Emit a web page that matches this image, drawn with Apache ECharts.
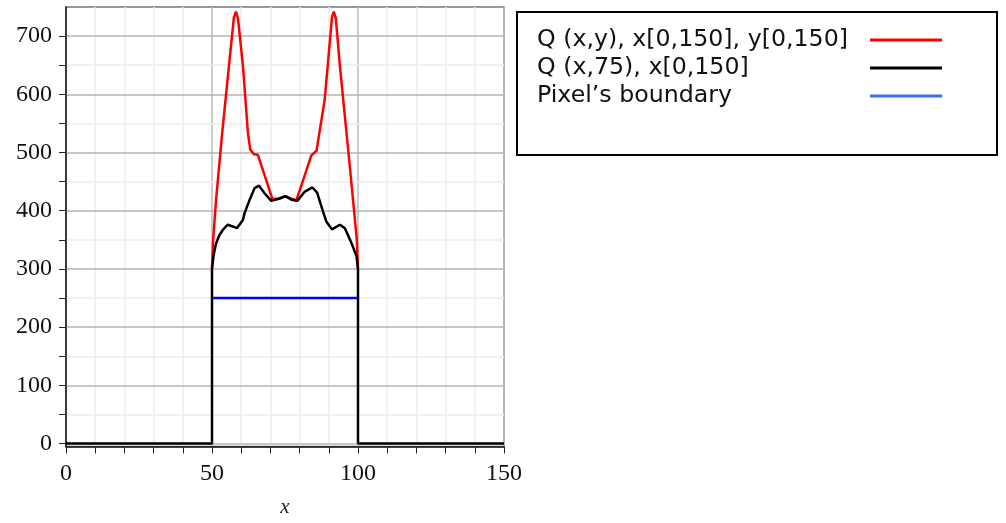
<!DOCTYPE html>
<html>
<head>
<meta charset="utf-8">
<script src="https://cdn.jsdelivr.net/npm/echarts@6/dist/echarts.min.js"></script>
<style>
html,body{margin:0;padding:0;background:#fff;}
#chart{width:1006px;height:523px;}
</style>
</head>
<body>
<div id="chart"></div>
<script>
// Series names
const seriesNames = ['Q (x,y), x[0,150], y[0,150]', 'Q (x,75), x[0,150]', 'Pixel\u2019s boundary'];

// Q(x,y) curve (red)
const redX = [50, 50.4, 51.4, 53.5, 55.8, 57.5, 58.2, 58.9, 60.6, 62.3, 63.1, 64.4, 65.7, 68.2, 70.7, 73, 75, 77, 78.9, 81.5, 84, 85.8, 88.6, 91.1, 91.7, 92.4, 93.8, 97.2, 99.6, 100];
const redY = [300, 350, 419, 534, 649, 732, 742, 730, 649, 534, 505, 497, 496, 458, 420, 421, 425, 421, 418, 457, 495, 503, 591, 733, 742, 731, 649, 476, 350, 300];

// Q(x,75) curve (black)
const blackX = [0, 50, 50, 50.6, 51.4, 52.5, 53.7, 55.4, 57.1, 58.5, 60.6, 61.1, 62.9, 64.6, 66.1, 68, 70.3, 73.2, 75.2, 77.2, 79.2, 81.8, 84.4, 86, 88, 89.2, 91.1, 93.8, 95.5, 97.8, 99.5, 100, 100, 150];
const blackY = [0, 0, 300, 325, 344, 358, 367, 376, 373, 370, 384, 395, 419, 439, 443, 430, 417, 421, 425, 419, 417, 433, 440, 431, 399, 381, 368, 376, 370, 344, 322, 300, 0, 0];

// Pixel's boundary (blue)
const blueX = [50, 100];
const blueY = [250, 250];

// Tick labels / tick positions
const xTickLabels = [0, 50, 100, 150];
const yTickLabels = [0, 100, 200, 300, 400, 500, 600, 700];
const yTicks = [0, 50, 100, 150, 200, 250, 300, 350, 400, 450, 500, 550, 600, 650, 700];

const pairs = (xs, ys) => xs.map((x, i) => [x, ys[i]]);

const chart = echarts.init(document.getElementById('chart'), null, {renderer: 'canvas'});
const serif = '"Liberation Serif", "Times New Roman", serif';
const sans = '"DejaVu Sans", Verdana, sans-serif';

chart.setOption({
  animation: false,
  backgroundColor: '#fff',
  grid: {
    left: 66, right: 502, top: 7, bottom: 76.5,
    outerBoundsMode: 'none', containLabel: false,
    show: true, borderColor: '#777', borderWidth: 1.5, backgroundColor: 'transparent'
  },
  xAxis: {
    type: 'value', min: 0, max: 150, interval: 10,
    name: 'x', nameLocation: 'middle', nameGap: 50,
    nameTextStyle: {fontFamily: serif, fontStyle: 'italic', fontSize: 21, color: '#222'},
    axisLine: {onZero: false, lineStyle: {color: '#111', width: 1.5}},
    axisTick: {show: true, length: 7, inside: false, lineStyle: {color: '#222', width: 1}},
    axisLabel: {
      fontFamily: serif, fontSize: 24, color: '#111', margin: 15,
      formatter: v => xTickLabels.indexOf(v) >= 0 ? String(v) : ''
    },
    splitLine: {show: true, lineStyle: {color: ['#bdbdbd', '#ececec', '#ececec', '#ececec', '#ececec'], width: 1.5}}
  },
  yAxis: {
    type: 'value', min: -5, max: 750, splitNumber: 8,
    axisLine: {show: true, onZero: false, lineStyle: {color: '#111', width: 1.5}},
    axisTick: {show: true, length: 7, customValues: yTicks, lineStyle: {color: '#222', width: 1}},
    axisLabel: {
      fontFamily: serif, fontSize: 24, color: '#111', margin: 14,
      showMinLabel: true, showMaxLabel: true,
      formatter: v => yTickLabels.indexOf(v) >= 0 ? String(v) : ''
    },
    splitLine: {show: false}
  },
  legend: {
    orient: 'vertical', left: 532, top: 23,
    align: 'right',
    itemWidth: 72, itemHeight: 3, itemGap: 4,
    icon: 'rect',
    formatter: '{a|{name}}',
    textStyle: {
      fontFamily: sans, fontSize: 23.7, color: '#111',
      rich: {a: {fontFamily: sans, fontSize: 23.7, color: '#111', width: 328, align: 'left', lineHeight: 26}}
    },
    data: [
      {name: seriesNames[0], itemStyle: {color: '#ff0000'}},
      {name: seriesNames[1], itemStyle: {color: '#000000'}},
      {name: seriesNames[2], itemStyle: {color: '#3a6cf0'}}
    ]
  },
  graphic: [{
    type: 'rect', left: 516, top: 11, z: -1,
    shape: {width: 480, height: 143},
    style: {fill: '#fff', stroke: '#000', lineWidth: 2}
  }],
  series: [
    {
      name: seriesNames[2], type: 'line', data: pairs(blueX, blueY), showSymbol: false, symbol: 'none',
      lineStyle: {color: '#0000ff', width: 2.5}, itemStyle: {color: '#0000ff'}, z: 2,
      markLine: {
        silent: true, symbol: 'none', animation: false, z: 0,
        data: yTicks.map(v => ({
          yAxis: v,
          lineStyle: {color: v % 100 === 0 ? '#b4b4b4' : '#ececec', width: 1.5, type: 'solid'},
          label: {show: false}
        }))
      }
    },
    {
      name: seriesNames[0], type: 'line', data: pairs(redX, redY), showSymbol: false, symbol: 'none',
      lineStyle: {color: '#ff0000', width: 2.5}, itemStyle: {color: '#ff0000'}, z: 3
    },
    {
      name: seriesNames[1], type: 'line', data: pairs(blackX, blackY), showSymbol: false, symbol: 'none',
      lineStyle: {color: '#000000', width: 2.5}, itemStyle: {color: '#000000'}, z: 4
    }
  ]
});
</script>
</body>
</html>
